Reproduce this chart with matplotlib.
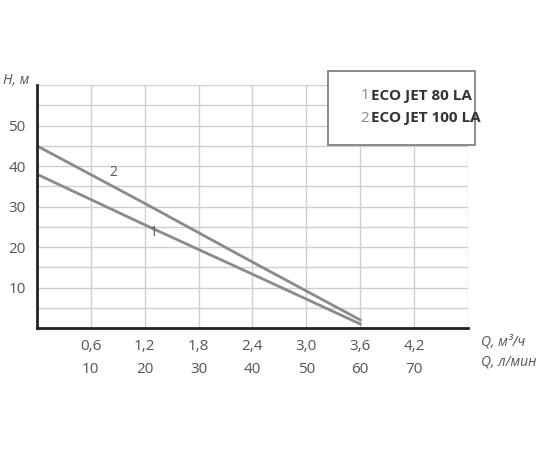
import matplotlib
matplotlib.use("Agg")
import matplotlib.pyplot as plt
from matplotlib.patches import Rectangle

plt.rcParams['font.family'] = ['Open Sans', 'DejaVu Sans']

# data
q_m3h = [0.0, 1.2, 2.4, 3.6]
h_80 = [38, 25.5, 13.3, 1.0]
h_100 = [45, 30.8, 16.3, 2.0]
x_ticks = [0.6, 1.2, 1.8, 2.4, 3.0, 3.6, 4.2]
x_labels_m3 = ["0,6", "1,2", "1,8", "2,4", "3,0", "3,6", "4,2"]
x_labels_lmin = ["10", "20", "30", "40", "50", "60", "70"]
y_ticks = [10, 20, 30, 40, 50]

text_col = "#555555"
line_col = "#8a8a8a"

fig = plt.figure(figsize=(5.5, 4.5), dpi=100)
ax = fig.add_axes([0.067, 0.271, 0.784, 0.54])
ax.set_xlim(0, 4.8)
ax.set_ylim(0, 60)

# grid
for x in x_ticks + [4.8]:
    ax.axvline(x, color="#cfcfcf", lw=1, zorder=0)
for y in range(5, 61, 5):
    ax.axhline(y, color="#cfcfcf", lw=1, zorder=0)

ax.plot(q_m3h, h_80, color=line_col, lw=2)
ax.plot(q_m3h, h_100, color=line_col, lw=2)
ax.text(1.3, 23.5, "1", color=text_col, fontsize=10, ha="center", va="center")
ax.text(0.85, 38.5, "2", color=text_col, fontsize=10, ha="center", va="center")

for s in ["top", "right"]:
    ax.spines[s].set_visible(False)
for s in ["left", "bottom"]:
    ax.spines[s].set_linewidth(2)
    ax.spines[s].set_color("#222222")

ax.set_xticks(x_ticks)
ax.set_xticklabels([a + "\n" + b for a, b in zip(x_labels_m3, x_labels_lmin)],
                   linespacing=1.7)
ax.set_yticks(y_ticks)
ax.tick_params(length=0, labelsize=11, colors=text_col, pad=8)

fig.text(0.875, 0.241, "Q, м³/ч", fontsize=10, style="italic", color=text_col, va="center")
fig.text(0.875, 0.196, "Q, л/мин", fontsize=10, style="italic", color=text_col, va="center")
fig.text(0.005, 0.822, "H, м", fontsize=10, style="italic", color=text_col, va="center")

# legend box
fig.patches.append(Rectangle((0.597, 0.678), 0.267, 0.164, transform=fig.transFigure,
                             facecolor="white", edgecolor="#777777", lw=1.2))
fig.text(0.655, 0.787, "1", fontsize=11, color="#888888", va="center")
fig.text(0.675, 0.787, "ECO JET 80 LA", fontsize=11, fontweight="bold", color="#333333", va="center")
fig.text(0.655, 0.737, "2", fontsize=11, color="#888888", va="center")
fig.text(0.675, 0.737, "ECO JET 100 LA", fontsize=11, fontweight="bold", color="#333333", va="center")

fig.savefig("out.png", dpi=100, facecolor="white")
